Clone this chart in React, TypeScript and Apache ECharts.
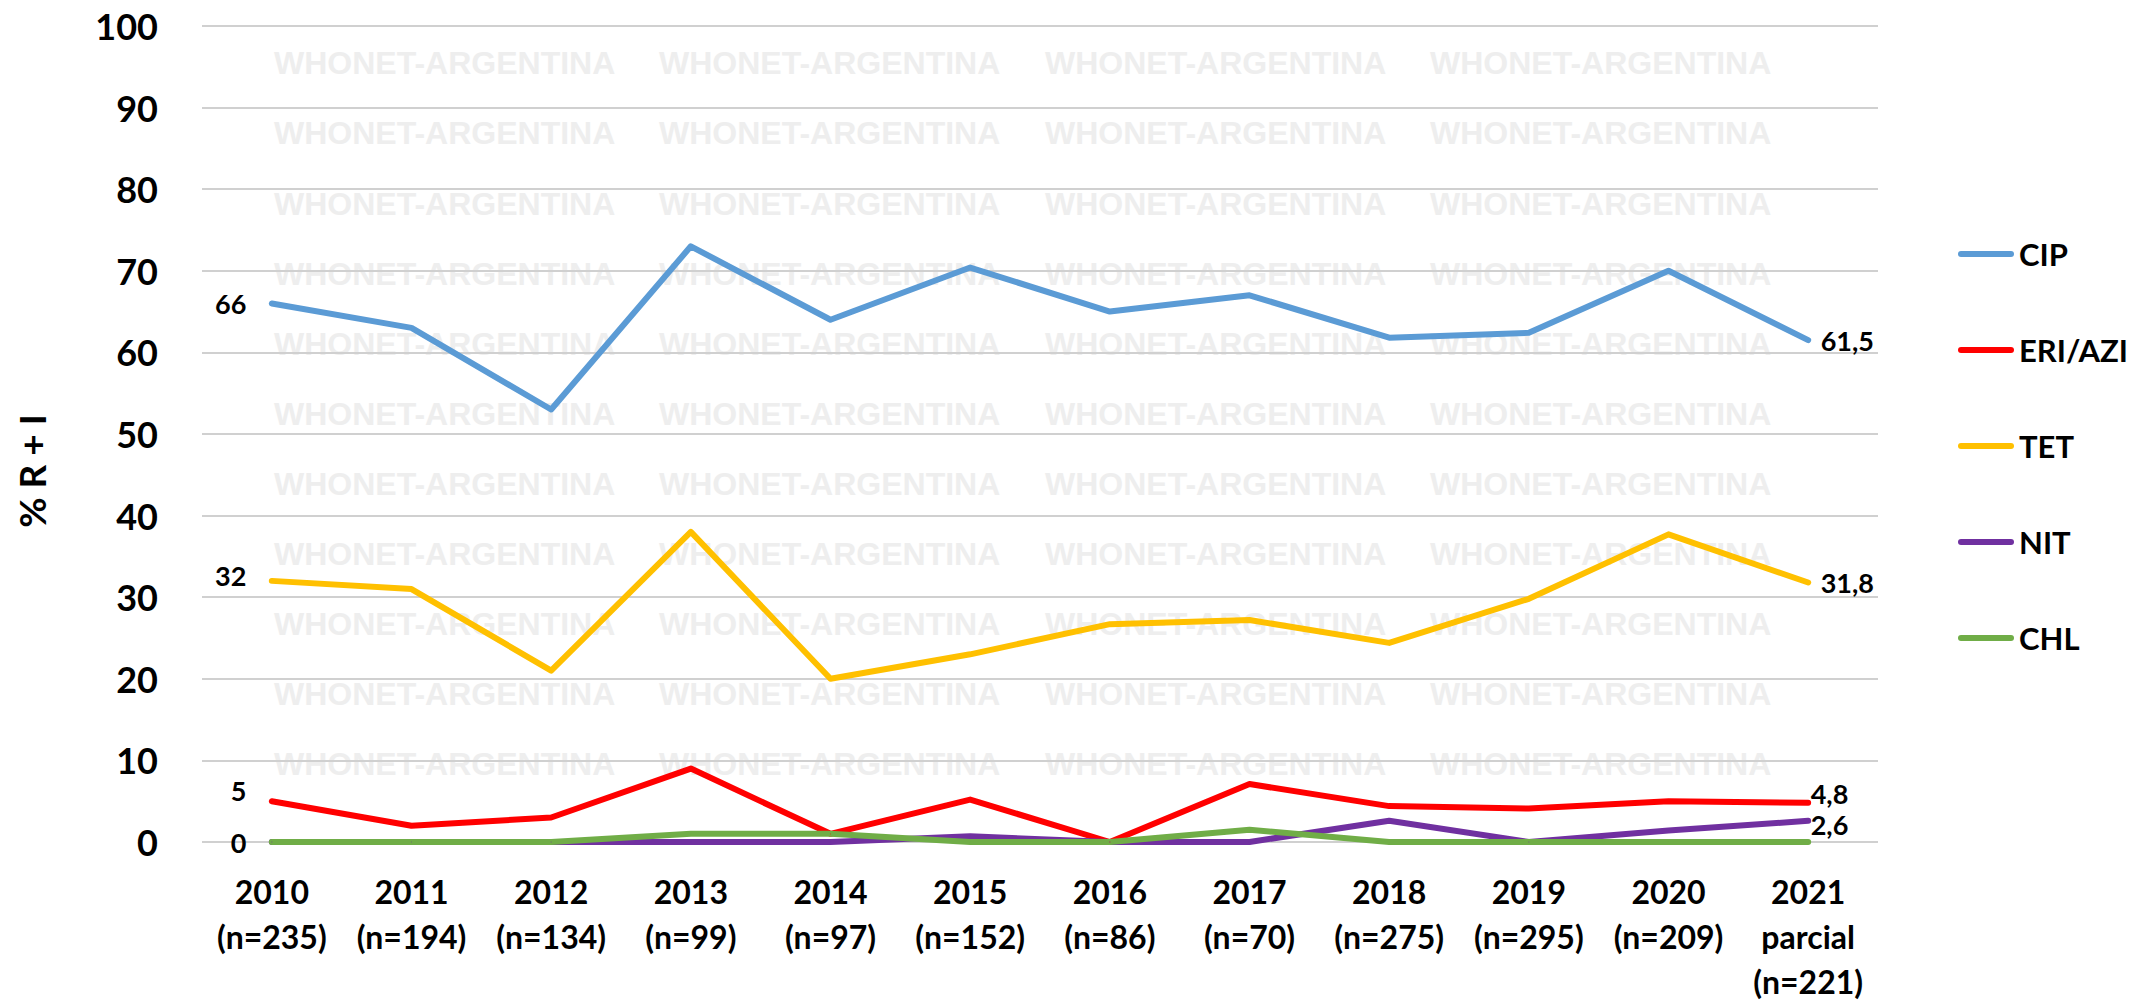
import React, { useEffect, useRef } from "react";
import * as echarts from "echarts";

const categories = [
  "2010\n(n=235)",
  "2011\n(n=194)",
  "2012\n(n=134)",
  "2013\n(n=99)",
  "2014\n(n=97)",
  "2015\n(n=152)",
  "2016\n(n=86)",
  "2017\n(n=70)",
  "2018\n(n=275)",
  "2019\n(n=295)",
  "2020\n(n=209)",
  "2021\nparcial\n(n=221)",
];

const seriesNames = ["CIP", "ERI/AZI", "TET", "NIT", "CHL"];
const cipValues = [66, 63, 53, 73, 64, 70.4, 65, 67, 61.8, 62.4, 70.0, 61.5];
const eriValues = [5, 2, 3, 9, 1, 5.2, 0, 7.1, 4.4, 4.1, 5.0, 4.8];
const tetValues = [32, 31, 21, 38, 20, 23, 26.7, 27.2, 24.4, 29.8, 37.7, 31.8];
const nitValues = [0, 0, 0, 0, 0, 0.7, 0, 0, 2.6, 0, 1.4, 2.6];
const chlValues = [0, 0, 0, 1, 1, 0, 0, 1.5, 0, 0, 0, 0];

const yTicks = [0, 10, 20, 30, 40, 50, 60, 70, 80, 90, 100];
const yTitle = "% R + I";
const watermarkText = "WHONET-ARGENTINA";

const colors = ["#5b9bd5", "#ff0000", "#ffc000", "#7030a0", "#70ad47"];

const fmt = (p: any) => String(p.value).replace(".", ",");

function buildSeries(
  name: string,
  values: number[],
  color: string,
  labels: Record<number, any>
) {
  return {
    name,
    type: "line",
    data: values.map((v, i) =>
      labels[i] ? { value: v, label: { show: true, ...labels[i] } } : v
    ),
    symbol: "circle",
    symbolSize: 1,
    showSymbol: true,
    showAllSymbol: true,
    lineStyle: { width: 6, color, cap: "round", join: "round" },
    itemStyle: { color },
    label: {
      show: false,
      fontFamily: "Lato",
      fontWeight: "bold",
      fontSize: 27,
      lineHeight: 26,
      color: "#000",
      formatter: fmt,
    },
    emphasis: { disabled: true },
  };
}

export default function App() {
  const ref = useRef<HTMLDivElement>(null);

  useEffect(() => {
    document.body.style.margin = "0";
    if (!ref.current) return;
    const chart = echarts.init(ref.current, undefined, { renderer: "svg" });

    const wmCols = [274, 659, 1045, 1430];
    const wmRows: number[] = [];
    for (let k = 0; k < 11; k++) wmRows.push(63.3 + 70.1 * k);
    const watermark: any[] = [];
    wmRows.forEach((y) =>
      wmCols.forEach((x) =>
        watermark.push({
          type: "text",
          x,
          y,
          z: -10,
          silent: true,
          style: {
            text: watermarkText,
            fill: "#eeeeee",
            font: "bold 32px 'Liberation Sans', Arial, sans-serif",
            align: "left",
            verticalAlign: "middle",
          },
        })
      )
    );

    const option: any = {
      animation: false,
      backgroundColor: "#ffffff",
      grid: { left: 202, right: 253, top: 26, bottom: 157, containLabel: false },
      legend: {
        orient: "vertical",
        left: 1953,
        top: 229,
        itemWidth: 56,
        itemHeight: 6,
        itemGap: 56,
        icon: "path://M3,0L53,0A3,3,0,0,1,53,6L3,6A3,3,0,0,1,3,0Z",
        data: seriesNames,
        textStyle: {
          fontFamily: "Lato",
          fontWeight: "bold",
          fontSize: 31,
          lineHeight: 40,
          color: "#000",
        },
        selectedMode: false,
      },
      xAxis: {
        type: "category",
        data: categories,
        boundaryGap: true,
        axisLine: { show: false },
        axisTick: { show: false },
        splitLine: { show: false },
        axisLabel: {
          interval: 0,
          margin: 27,
          fontFamily: "Lato",
          fontWeight: "bold",
          fontSize: 32,
          lineHeight: 45,
          color: "#000",
        },
      },
      yAxis: {
        type: "value",
        min: yTicks[0],
        max: yTicks[yTicks.length - 1],
        interval: 10,
        axisLine: { show: false },
        axisTick: { show: false },
        splitLine: { show: true, lineStyle: { color: "#d0d0d0", width: 2 } },
        axisLabel: {
          margin: 44,
          fontFamily: "Lato",
          fontWeight: "bold",
          fontSize: 36,
          color: "#000",
        },
      },
      graphic: [
        ...watermark,
        {
          type: "text",
          x: 31,
          y: 471,
          rotation: Math.PI / 2,
          silent: true,
          style: {
            text: yTitle,
            fill: "#000",
            font: "bold 37px Lato, sans-serif",
            align: "center",
            verticalAlign: "middle",
          },
        },
      ],
      series: [
        buildSeries(seriesNames[0], cipValues, colors[0], {
          0: { position: "left", distance: 25 },
          11: { position: "right", distance: 12 },
        }),
        buildSeries(seriesNames[1], eriValues, colors[1], {
          0: { position: "left", distance: 25, offset: [0, -11] },
          11: { position: "right", distance: 2, offset: [0, -9] },
        }),
        buildSeries(seriesNames[2], tetValues, colors[2], {
          0: { position: "left", distance: 25, offset: [0, -5] },
          11: { position: "right", distance: 12 },
        }),
        buildSeries(seriesNames[3], nitValues, colors[3], {
          0: { position: "left", distance: 25 },
          11: { position: "right", distance: 2, offset: [0, 4] },
        }),
        buildSeries(seriesNames[4], chlValues, colors[4], {}),
      ],
    };

    chart.setOption(option);
    return () => chart.dispose();
  }, []);

  return <div ref={ref} style={{ width: 2131, height: 1004 }} />;
}
